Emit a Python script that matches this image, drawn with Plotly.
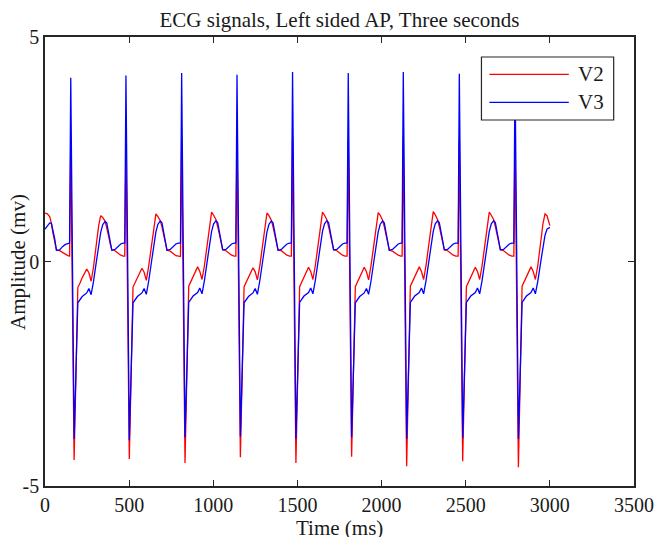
import plotly.graph_objects as go

# Time (ms) shared by both leads
time_ms = [
    0, 14, 28, 38, 48, 58, 68, 87, 104, 121, 136,
    146, 153, 173, 195, 208, 221, 248, 261, 274, 288, 307, 319, 331, 343, 357, 367, 377, 387, 397, 416, 433, 450, 465,
    474, 481, 501, 523, 536, 549, 576, 589, 602, 616, 635, 647, 659, 671, 685, 695, 705, 715, 725, 744, 761, 778, 793,
    805, 812, 832, 854, 867, 880, 907, 920, 933, 947, 966, 978, 990, 1002, 1016, 1026, 1036, 1046, 1056, 1075, 1092, 1109, 1124,
    1134, 1141, 1161, 1183, 1196, 1209, 1236, 1249, 1262, 1276, 1295, 1307, 1319, 1331, 1345, 1355, 1365, 1375, 1385, 1404, 1421, 1438, 1453,
    1464, 1471, 1491, 1513, 1526, 1539, 1566, 1579, 1592, 1606, 1625, 1637, 1649, 1661, 1675, 1685, 1695, 1705, 1715, 1734, 1751, 1768, 1783,
    1795, 1802, 1822, 1844, 1857, 1870, 1897, 1910, 1923, 1937, 1956, 1968, 1980, 1992, 2006, 2016, 2026, 2036, 2046, 2065, 2082, 2099, 2114,
    2122, 2129, 2149, 2171, 2184, 2197, 2224, 2237, 2250, 2264, 2283, 2295, 2307, 2319, 2333, 2343, 2353, 2363, 2373, 2392, 2409, 2426, 2441,
    2455, 2462, 2482, 2504, 2517, 2530, 2557, 2570, 2583, 2597, 2616, 2628, 2640, 2652, 2666, 2676, 2686, 2696, 2706, 2725, 2742, 2759, 2774,
    2786, 2793, 2813, 2835, 2848, 2861, 2888, 2901, 2914, 2928, 2947, 2959, 2971, 2983, 3000,
]

# Lead V2 amplitude (mV)
v2_mv = [
    1.08, 1.06, 1.00, 0.85, 0.62, 0.42, 0.26, 0.24, 0.20, 0.15, 0.13,
    0.12, 2.68, -4.42, -0.58, -0.48, -0.36, -0.17, -0.25, -0.44, -0.13, 0.44, 0.80, 1.02, 0.98, 0.90, 0.76, 0.58, 0.40, 0.26, 0.24, 0.18, 0.14, 0.12,
    0.12, 2.62, -4.40, -0.57, -0.47, -0.35, -0.15, -0.24, -0.42, -0.11, 0.46, 0.82, 1.06, 1.00, 0.91, 0.77, 0.58, 0.40, 0.25, 0.23, 0.17, 0.13, 0.12,
    0.11, 2.77, -4.49, -0.55, -0.45, -0.33, -0.12, -0.22, -0.40, -0.10, 0.48, 0.85, 1.10, 1.03, 0.93, 0.78, 0.60, 0.41, 0.26, 0.24, 0.18, 0.14, 0.12,
    0.12, 2.78, -4.36, -0.56, -0.46, -0.34, -0.14, -0.23, -0.41, -0.11, 0.47, 0.84, 1.08, 1.02, 0.92, 0.77, 0.59, 0.40, 0.25, 0.24, 0.18, 0.14, 0.12,
    0.12, 2.78, -4.49, -0.56, -0.45, -0.33, -0.13, -0.22, -0.40, -0.10, 0.48, 0.85, 1.10, 1.03, 0.93, 0.78, 0.60, 0.41, 0.26, 0.24, 0.18, 0.14, 0.12,
    0.12, 2.75, -4.35, -0.56, -0.46, -0.34, -0.13, -0.23, -0.41, -0.10, 0.48, 0.85, 1.09, 1.03, 0.92, 0.78, 0.59, 0.40, 0.25, 0.23, 0.18, 0.14, 0.12,
    0.12, 2.78, -4.56, -0.55, -0.45, -0.33, -0.12, -0.22, -0.40, -0.09, 0.49, 0.86, 1.11, 1.04, 0.93, 0.78, 0.60, 0.41, 0.26, 0.24, 0.18, 0.14, 0.12,
    0.12, 2.72, -4.45, -0.56, -0.45, -0.34, -0.13, -0.22, -0.40, -0.10, 0.48, 0.85, 1.10, 1.03, 0.93, 0.78, 0.60, 0.41, 0.26, 0.24, 0.18, 0.14, 0.12,
    0.12, 2.85, -4.58, -0.55, -0.45, -0.33, -0.12, -0.22, -0.40, -0.10, 0.47, 0.84, 1.06, 1.02, 0.80,
]

# Lead V3 amplitude (mV)
v3_mv = [
    0.72, 0.80, 0.86, 0.85, 0.70, 0.50, 0.25, 0.26, 0.33, 0.38, 0.40,
    0.41, 4.09, -3.95, -0.92, -0.86, -0.78, -0.70, -0.60, -0.74, -0.45, 0.04, 0.40, 0.65, 0.82, 0.89, 0.86, 0.68, 0.45, 0.25, 0.27, 0.34, 0.39, 0.41,
    0.41, 4.14, -3.98, -0.92, -0.86, -0.78, -0.70, -0.60, -0.73, -0.44, 0.05, 0.41, 0.66, 0.83, 0.90, 0.86, 0.68, 0.45, 0.25, 0.27, 0.34, 0.39, 0.41,
    0.41, 4.20, -3.92, -0.91, -0.85, -0.77, -0.69, -0.59, -0.72, -0.43, 0.06, 0.42, 0.67, 0.84, 0.91, 0.87, 0.69, 0.46, 0.26, 0.27, 0.34, 0.39, 0.41,
    0.41, 4.16, -3.90, -0.92, -0.86, -0.78, -0.70, -0.60, -0.73, -0.44, 0.05, 0.41, 0.66, 0.83, 0.90, 0.86, 0.68, 0.45, 0.25, 0.27, 0.34, 0.39, 0.41,
    0.41, 4.22, -3.95, -0.91, -0.85, -0.77, -0.69, -0.59, -0.72, -0.43, 0.06, 0.42, 0.67, 0.84, 0.91, 0.87, 0.69, 0.46, 0.26, 0.27, 0.34, 0.39, 0.41,
    0.41, 4.20, -3.92, -0.92, -0.86, -0.78, -0.70, -0.60, -0.73, -0.44, 0.05, 0.41, 0.66, 0.83, 0.90, 0.86, 0.68, 0.45, 0.25, 0.27, 0.34, 0.39, 0.41,
    0.41, 4.22, -3.95, -0.91, -0.85, -0.77, -0.69, -0.59, -0.72, -0.43, 0.06, 0.42, 0.67, 0.84, 0.91, 0.87, 0.69, 0.46, 0.26, 0.27, 0.34, 0.39, 0.41,
    0.41, 4.18, -3.93, -0.91, -0.85, -0.77, -0.69, -0.59, -0.72, -0.43, 0.06, 0.42, 0.67, 0.84, 0.91, 0.87, 0.69, 0.46, 0.26, 0.27, 0.34, 0.39, 0.41,
    0.41, 4.22, -3.95, -0.91, -0.85, -0.77, -0.69, -0.59, -0.72, -0.45, 0.02, 0.36, 0.58, 0.72, 0.76,
]

series_names = ["V2", "V3"]
series_colors = ["#FF0000", "#0000FF"]

x_ticks = [0, 500, 1000, 1500, 2000, 2500, 3000, 3500]
x_ticktext = ["0", "500", "1000", "1500", "2000", "2500", "3000", "3500"]
y_ticks = [-5, 0, 5]
y_ticktext = ["-5", "0", "5"]

FONT = "Liberation Serif"
AXC = "#262626"
TXT = "#1a1a1a"

fig = go.Figure()
for name, color, vals in zip(series_names, series_colors, [v2_mv, v3_mv]):
    fig.add_trace(go.Scatter(x=time_ms, y=vals, mode="lines", name=name,
                             line=dict(color=color, width=1.3), showlegend=False))

axis_common = dict(
    showgrid=False, zeroline=False, showline=True, linecolor=AXC, linewidth=1.6,
    mirror="ticks", ticks="inside", ticklen=6, tickwidth=1.4, tickcolor=AXC,
    tickfont=dict(family=FONT, size=20, color=TXT), automargin=False,
)

# Legend box, MATLAB style (paper coordinates)
lg_x0, lg_x1, lg_y0, lg_y1 = 0.7410, 0.9655, 0.8151, 0.9555
shapes = [dict(type="rect", xref="paper", yref="paper", x0=lg_x0, x1=lg_x1, y0=lg_y0, y1=lg_y1,
               line=dict(color=AXC, width=1.2), fillcolor="white", layer="above")]
annotations = []
for i, (name, color) in enumerate(zip(series_names, series_colors)):
    yy = 0.9169 - i * 0.0624
    shapes.append(dict(type="line", xref="paper", yref="paper", x0=0.7545, x1=0.8893, y0=yy, y1=yy,
                       line=dict(color=color, width=1.3), layer="above"))
    annotations.append(dict(text=name, xref="paper", yref="paper", x=0.9010, y=yy, xanchor="left",
                            yanchor="middle", showarrow=False,
                            font=dict(family=FONT, size=21, color=TXT)))

annotations.append(dict(text="Time (ms)", xref="paper", yref="paper", x=0.5, y=-0.0925,
                        xanchor="center", yanchor="middle", showarrow=False,
                        font=dict(family=FONT, size=21, color=TXT)))
annotations.append(dict(text="Amplitude (mv)", xref="paper", yref="paper", x=-0.0467, y=0.5,
                        xanchor="center", yanchor="middle", textangle=-90, showarrow=False,
                        font=dict(family=FONT, size=21, color=TXT)))

fig.update_layout(
    width=657, height=537,
    margin=dict(l=45, r=23, t=37, b=51),
    paper_bgcolor="white", plot_bgcolor="white",
    font=dict(family=FONT, color=TXT),
    title=dict(text="ECG signals, Left sided AP, Three seconds",
               font=dict(family=FONT, size=21, color=TXT),
               x=0.5, xanchor="center", xref="paper", y=0.963, yanchor="middle"),
    xaxis=dict(range=[0, 3500], tickvals=x_ticks, ticktext=x_ticktext, **axis_common),
    yaxis=dict(range=[-5, 5], tickvals=y_ticks, ticktext=y_ticktext, **axis_common),
    shapes=shapes,
    annotations=annotations,
    showlegend=False,
)

fig.write_html("out.html", config={"displayModeBar": False},
               post_script="document.body.style.margin='0';document.body.style.padding='0';")
